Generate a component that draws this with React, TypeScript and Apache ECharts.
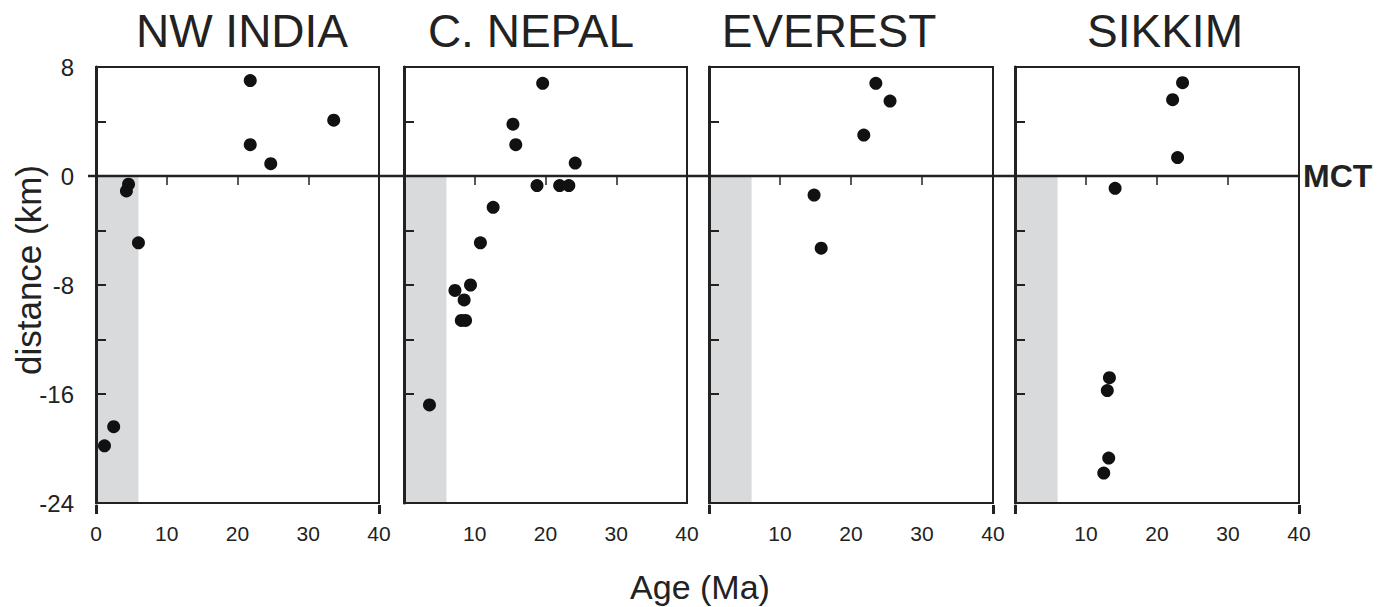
import React, { useEffect, useRef } from "react";
import * as echarts from "echarts";

const panelTitles = ["NW INDIA", "C. NEPAL", "EVEREST", "SIKKIM"];

const nwIndiaAge = [21.8, 33.6, 21.8, 24.7, 4.6, 4.3, 6.0, 2.5, 1.2];
const nwIndiaDist = [7.0, 4.1, 2.3, 0.9, -0.6, -1.1, -4.9, -18.4, -19.8];

const cNepalAge = [19.6, 15.4, 15.8, 24.2, 18.8, 22.0, 23.3, 12.6, 10.8, 9.4, 7.2, 8.5, 8.1, 8.7, 3.6];
const cNepalDist = [6.8, 3.8, 2.3, 0.95, -0.7, -0.7, -0.7, -2.3, -4.9, -8.0, -8.4, -9.1, -10.6, -10.6, -16.8];

const everestAge = [23.5, 25.5, 21.8, 14.8, 15.8];
const everestDist = [6.8, 5.5, 3.0, -1.4, -5.3];

const sikkimAge = [23.6, 22.2, 22.9, 14.1, 13.3, 13.0, 13.2, 12.5];
const sikkimDist = [6.85, 5.6, 1.35, -0.9, -14.8, -15.75, -20.7, -21.8];

const panelAges = [nwIndiaAge, cNepalAge, everestAge, sikkimAge];
const panelDists = [nwIndiaDist, cNepalDist, everestDist, sikkimDist];

const bandAgeMax = 6;
const mctDistance = 0;

const xLabelsByPanel = [[0, 10, 20, 30, 40], [10, 20, 30, 40], [10, 20, 30, 40], [10, 20, 30, 40]];
const xThinTicks = [10, 20, 30];
const xBoldTicksByPanel = [[0, 40], [], [0, 40], [0, 40]];
const yLabelValues = [8, 0, -8, -16, -24];
const yTickValues = [4, -4, -8, -12, -16];

const FONT = '"Liberation Sans", Arial, Helvetica, sans-serif';
const INK = "#222";

const gridLefts = [96, 404, 709, 1015];
const gridWidths = [283, 283, 284, 284];
const GRID_TOP = 67;
const GRID_H = 436;
const titleCenters = [242, 531, 829, 1165];

export default function App() {
  const ref = useRef<HTMLDivElement>(null);
  useEffect(() => {
    const chart = echarts.init(ref.current!, null, { renderer: "svg" });

    const grid = gridLefts.map((l, i) => ({
      left: l,
      top: GRID_TOP,
      width: gridWidths[i],
      height: GRID_H,
      show: true,
      borderColor: INK,
      borderWidth: 2,
      backgroundColor: "transparent",
      z: 10,
    }));

    const xThin = gridLefts.map((_, i) => ({
      type: "value",
      gridIndex: i,
      position: "bottom",
      min: 0,
      max: 40,
      interval: 10,
      offset: 2,
      axisLine: { show: false },
      splitLine: { show: false },
      axisTick: {
        show: true,
        inside: false,
        length: 9,
        customValues: xThinTicks,
        lineStyle: { color: INK, width: 1.5 },
      },
      axisLabel: {
        show: true,
        customValues: xLabelsByPanel[i],
        margin: 18,
        fontSize: 21,
        fontFamily: FONT,
        color: INK,
      },
    }));

    const xBold = gridLefts.map((_, i) => ({
      type: "value",
      gridIndex: i,
      position: "bottom",
      min: 0,
      max: 40,
      interval: 10,
      offset: 2,
      show: xBoldTicksByPanel[i].length > 0,
      axisLine: { show: false },
      splitLine: { show: false },
      axisTick: {
        show: xBoldTicksByPanel[i].length > 0,
        inside: false,
        length: 9,
        customValues: xBoldTicksByPanel[i],
        lineStyle: { color: INK, width: 3 },
      },
      axisLabel: { show: false },
    }));

    const yAxes = gridLefts.map((_, i) => ({
      type: "value",
      gridIndex: i,
      position: "left",
      min: -24,
      max: 8,
      interval: 4,
      z: 10,
      axisLine: { show: true, lineStyle: { color: INK, width: 3 } },
      splitLine: { show: false },
      axisTick: {
        show: true,
        inside: true,
        length: 10,
        customValues: yTickValues,
        lineStyle: { color: INK, width: 2 },
      },
      axisLabel: {
        show: i === 0,
        customValues: yLabelValues,
        margin: 22,
        fontSize: 24,
        fontFamily: FONT,
        color: INK,
      },
    }));

    const series = panelAges.map((ages, i) => ({
      type: "scatter",
      xAxisIndex: i,
      yAxisIndex: i,
      symbol: "circle",
      symbolSize: 13,
      itemStyle: { color: "#111", opacity: 1 },
      data: ages.map((a, j) => [a, panelDists[i][j]]),
      markArea: {
        silent: true,
        itemStyle: { color: "#d9dadc", opacity: 1 },
        data: [[{ xAxis: 0, yAxis: mctDistance }, { xAxis: bandAgeMax, yAxis: -24 }]],
      },
    }));

    const titles = panelTitles.map((t, i) => ({
      type: "text",
      x: titleCenters[i],
      y: 31,
      style: {
        text: t,
        fontSize: 46,
        fontFamily: FONT,
        fill: INK,
        textAlign: "center",
        textVerticalAlign: "middle",
      },
    }));

    const staticTexts = [
      ...titles,
      {
        type: "text",
        x: 28,
        y: 270,
        rotation: Math.PI / 2,
        style: {
          text: "distance (km)",
          fontSize: 35,
          fontFamily: FONT,
          fill: INK,
          textAlign: "center",
          textVerticalAlign: "middle",
        },
      },
      {
        type: "text",
        x: 700,
        y: 587,
        style: {
          text: "Age (Ma)",
          fontSize: 34,
          fontFamily: FONT,
          fill: INK,
          textAlign: "center",
          textVerticalAlign: "middle",
        },
      },
    ];

    chart.setOption({
      animation: false,
      backgroundColor: "#fff",
      grid,
      xAxis: [...xThin, ...xBold],
      yAxis: yAxes,
      series,
      graphic: staticTexts,
    });

    const y0 = chart.convertToPixel({ yAxisIndex: 0 }, mctDistance) as number;
    const xStart = gridLefts[0] - 8;
    const xEnd = gridLefts[3] + gridWidths[3];
    chart.setOption({
      graphic: [
        ...staticTexts,
        {
          type: "line",
          z: 20,
          shape: { x1: xStart, y1: y0, x2: xEnd, y2: y0 },
          style: { stroke: INK, lineWidth: 2.5 },
        },
        {
          type: "text",
          x: xEnd + 4,
          y: y0,
          style: {
            text: "MCT",
            fontSize: 32,
            fontWeight: "bold",
            fontFamily: FONT,
            fill: INK,
            textAlign: "left",
            textVerticalAlign: "middle",
          },
        },
      ],
    });

    return () => chart.dispose();
  }, []);
  return (
    <div
      ref={ref}
      style={{ position: "absolute", left: 0, top: 0, width: 1393, height: 607 }}
    />
  );
}
